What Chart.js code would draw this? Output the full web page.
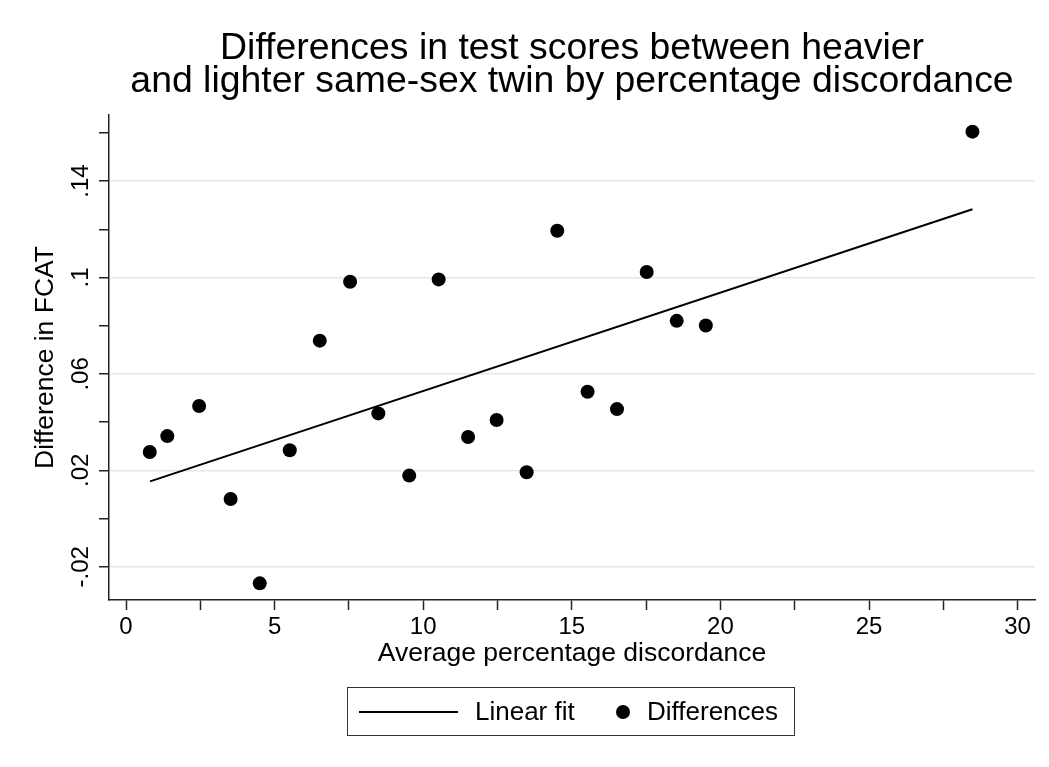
<!DOCTYPE html>
<html>
<head>
<meta charset="utf-8">
<script src="https://cdn.jsdelivr.net/npm/chart.js@4"></script>
<style>
  body { margin: 0; background: #fff; }
  #wrap { position: relative; width: 1049px; height: 767px; }
  #legend {
    position: absolute; left: 347px; top: 687px; width: 446px; height: 47px;
    border: 1.5px solid #333; font-family: "Liberation Sans", Arial, sans-serif;
    font-size: 26px; color: #000;
  }
  #legend .ln { position: absolute; left: 11px; top: 23px; width: 99px; height: 2px; background: #000; }
  #legend .dot { position: absolute; left: 268px; top: 17px; width: 14px; height: 14px; border-radius: 50%; background: #000; }
  #legend .t { position: absolute; top: 8px; line-height: 30px; }
</style>
</head>
<body>
<div id="wrap">
  <canvas id="twinChart" width="1049" height="767"></canvas>
  <div id="legend">
    <div class="ln"></div><span class="t" style="left:127px">Linear fit</span>
    <div class="dot"></div><span class="t" style="left:299px">Differences</span>
  </div>
</div>
<script>
// Average percentage discordance (x) and difference in FCAT (y)
const discordance = [0.80, 1.39, 2.46, 3.52, 4.50, 5.51, 6.52, 7.54, 8.49, 9.53, 10.52,
                     11.51, 12.47, 13.48, 14.51, 15.53, 16.52, 17.52, 18.53, 19.51, 28.48];
const differences = [0.0276, 0.0342, 0.0467, 0.0081, -0.0269, 0.0283, 0.0738, 0.0982, 0.0436, 0.0178, 0.0992,
                     0.0338, 0.0409, 0.0192, 0.1194, 0.0526, 0.0454, 0.1023, 0.0820, 0.0801, 0.1605];

// Linear fit end points
const fitX = [0.81, 28.48];
const fitY = [0.0154, 0.1283];

// Axis ticks
const xTicks = [0, 2.5, 5, 7.5, 10, 12.5, 15, 17.5, 20, 22.5, 25, 27.5, 30];
const yTicks = [-0.02, 0, 0.02, 0.04, 0.06, 0.08, 0.10, 0.12, 0.14, 0.16];
const yLabelled = [-0.02, 0.02, 0.06, 0.10, 0.14];

const FONT = '"Liberation Sans", Arial, sans-serif';
const isLabelled = v => yLabelled.some(l => Math.abs(l - v) < 1e-9);
const fmtY = v => {
    let s = (+v.toFixed(2)).toString();
    return s.replace(/^(-?)0\./, '$1.');
};

// rotated y tick labels, placed with the y scale
const yLabels = {
    id: 'yLabels',
    afterDraw(chart) {
        const ctx = chart.ctx;
        const y = chart.scales.y;
        ctx.save();
        ctx.font = '24px ' + FONT;
        ctx.fillStyle = '#000';
        ctx.textAlign = 'center';
        ctx.textBaseline = 'alphabetic';
        yLabelled.forEach(v => {
            ctx.save();
            ctx.translate(y.right - 21.5, y.getPixelForValue(v));
            ctx.rotate(-Math.PI / 2);
            ctx.fillText(fmtY(v), 0, 0);
            ctx.restore();
        });
        ctx.restore();
    }
};

const chart = new Chart(document.getElementById('twinChart'), {
    type: 'scatter',
    data: {
        datasets: [{
            label: 'Differences',
            data: discordance.map((x, i) => ({ x: x, y: differences[i] })),
            backgroundColor: '#000',
            borderWidth: 0,
            pointRadius: 7,
            pointHoverRadius: 7
        }, {
            type: 'line',
            label: 'Linear fit',
            data: fitX.map((x, i) => ({ x: x, y: fitY[i] })),
            borderColor: '#000',
            borderWidth: 2,
            pointRadius: 0,
            fill: false
        }]
    },
    options: {
        responsive: false,
        animation: false,
        layout: { padding: { left: 0, right: 14, top: 0, bottom: 92 } },
        plugins: {
            legend: { display: false },
            tooltip: { enabled: false },
            title: {
                display: true,
                fullSize: false,
                text: ['Differences in test scores between heavier',
                       'and lighter same-sex twin by percentage discordance'],
                color: '#000',
                font: { family: FONT, size: 37.4, weight: 'normal', lineHeight: '33px' },
                padding: { top: 32.5, bottom: 16.5 }
            }
        },
        scales: {
            x: {
                type: 'linear',
                min: -0.572,
                max: 30.585,
                afterBuildTicks: s => { s.ticks = xTicks.map(v => ({ value: v })); },
                afterFit: s => { s.height = 75; },
                grid: { drawOnChartArea: false, drawTicks: true, tickLength: 10, tickColor: '#222', tickWidth: 1.5 },
                border: { display: true, color: '#222', width: 1.5 },
                ticks: {
                    color: '#000',
                    padding: 3,
                    maxRotation: 0,
                    autoSkip: false,
                    font: { family: FONT, size: 24 },
                    callback: v => (v % 5 === 0 ? String(v) : '')
                },
                title: {
                    display: true,
                    text: 'Average percentage discordance',
                    color: '#000',
                    font: { family: FONT, size: 26.5 },
                    padding: { top: 0, bottom: 5 }
                }
            },
            y: {
                type: 'linear',
                min: -0.0338,
                max: 0.1674,
                afterBuildTicks: s => { s.ticks = yTicks.map(v => ({ value: v })); },
                afterFit: s => { s.width = 109; },
                grid: {
                    drawOnChartArea: true,
                    drawTicks: true,
                    tickLength: 10,
                    tickColor: '#222',
                    tickWidth: 1.5,
                    lineWidth: 1.5,
                    color: c => (c.tick && isLabelled(c.tick.value) ? '#e6e6e6' : 'rgba(0,0,0,0)')
                },
                border: { display: true, color: '#222', width: 1.5 },
                ticks: { display: false },
                title: {
                    display: true,
                    text: 'Difference in FCAT',
                    color: '#000',
                    font: { family: FONT, size: 26.5 },
                    padding: { top: 30, bottom: 0 }
                }
            }
        }
    },
    plugins: [yLabels]
});
</script>
</body>
</html>
